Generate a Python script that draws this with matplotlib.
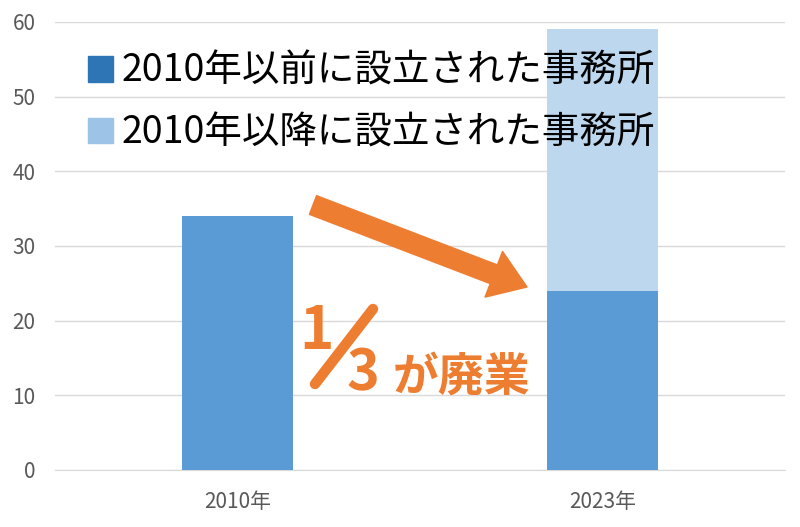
import matplotlib.pyplot as plt
from matplotlib.patches import Patch

plt.rcParams['font.family'] = ['Noto Sans CJK JP', 'DejaVu Sans']

categories = ['2010年', '2023年']
before_2010 = [34, 24]
after_2010 = [0, 35]
legend_labels = ['2010年以前に設立された事務所', '2010年以降に設立された事務所']
y_ticks = [0, 10, 20, 30, 40, 50, 60]

bar_dark = '#5B9BD5'
bar_light = '#BDD7EE'
orange = '#ED7D31'
gray = '#595959'

fig = plt.figure(figsize=(8, 5.27), dpi=100)
ax = fig.add_axes([55 / 800, 57 / 527, 730 / 800, 448 / 527])

x = range(len(categories))
ax.bar(x, before_2010, width=0.304, color=bar_dark, zorder=3)
ax.bar(x, after_2010, width=0.304, bottom=before_2010, color=bar_light, zorder=3)

ax.set_xlim(-0.5, 1.5)
ax.set_ylim(0, 60)
ax.set_yticks(y_ticks)
ax.set_xticks(list(x))
ax.set_xticklabels(categories)
ax.tick_params(axis='both', length=0, labelsize=15, colors=gray)
ax.tick_params(axis='x', pad=15)
ax.tick_params(axis='y', pad=14)
ax.grid(axis='y', color='#D9D9D9', linewidth=1, zorder=0)
for s in ['top', 'right', 'left']:
    ax.spines[s].set_visible(False)
ax.spines['bottom'].set_color('#D9D9D9')

handles = [Patch(color='#2E75B6'), Patch(color='#9DC3E6')]
ax.legend(handles, legend_labels, loc='upper left', bbox_to_anchor=(88 / 800, 1 - 52 / 527),
          bbox_transform=fig.transFigure, frameon=False, fontsize=27,
          handlelength=0.67, handleheight=0.67, handletextpad=0.22, labelspacing=0.6,
          borderaxespad=0, borderpad=0)

# arrow
ax.annotate('', xy=(527 / 800, 1 - 287 / 527), xytext=(313 / 800, 1 - 205 / 527),
            xycoords='figure fraction', textcoords='figure fraction',
            arrowprops=dict(arrowstyle='simple,head_length=1.6,head_width=2.2,tail_width=0.9',
                            color=orange, mutation_scale=16, shrinkA=0, shrinkB=0))

# 1/3 が廃業
fig.text(299 / 800, 1 - 349 / 527, '1', fontsize=42, fontweight='bold', color=orange, va='baseline')
ax.annotate('', xy=(373 / 800, 1 - 309 / 527), xytext=(315 / 800, 1 - 384 / 527),
            xycoords='figure fraction', textcoords='figure fraction',
            arrowprops=dict(arrowstyle='-', lw=7.5, color=orange, shrinkA=0, shrinkB=0,
                            capstyle='round'))
fig.text(347 / 800, 1 - 389 / 527, '3', fontsize=40, fontweight='bold', color=orange, va='baseline')
fig.text(393 / 800, 1 - 391 / 527, 'が廃業', fontsize=33, fontweight='bold', color=orange, va='baseline')

fig.savefig('out.png', dpi=100)
